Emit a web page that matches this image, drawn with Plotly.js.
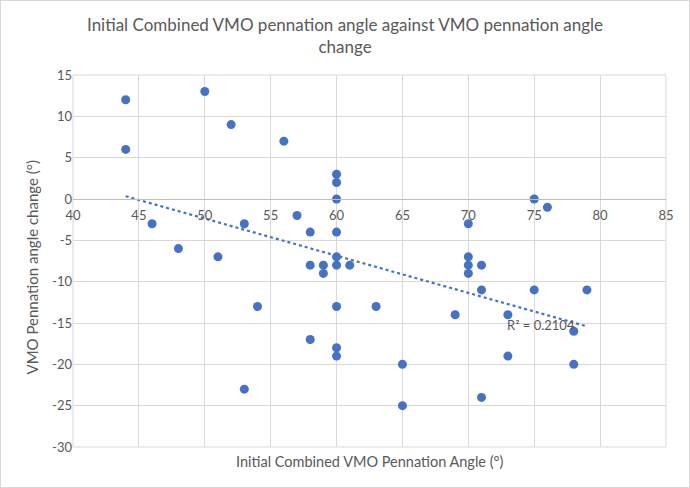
<!DOCTYPE html>
<html>
<head>
<meta charset="utf-8">
<script src="https://cdn.plot.ly/plotly-3.0.1.min.js"></script>
<style>
html,body{margin:0;padding:0;background:#fff;}
#chart{width:690px;height:488px;box-sizing:border-box;border:1px solid #d9d9d9;}
</style>
</head>
<body>
<div id="chart"></div>
<script>
// Initial combined VMO pennation angle (°)
const initialAngle = [44,44,50,52,56,60,60,60,57,46,53,58,60,48,51,60,58,59,60,61,59,54,60,63,58,60,60,53,65,65,70,75,76,70,70,70,71,71,75,79,69,73,78,73,78,71];
// VMO pennation angle change (°)
const angleChange = [12,6,13,9,7,3,2,0,-2,-3,-3,-4,-4,-6,-7,-7,-8,-8,-8,-8,-9,-13,-13,-13,-17,-18,-19,-23,-20,-25,-3,0,-1,-7,-8,-9,-8,-11,-11,-11,-14,-14,-16,-19,-20,-24];
const xTicks = [40,45,50,55,60,65,70,75,80,85];
const yTicks = [-30,-25,-20,-15,-10,-5,0,5,10,15];
const rSquaredLabel = "R² = 0.2104";

// least-squares trendline from the data
const n = initialAngle.length;
const mx = initialAngle.reduce((a,b)=>a+b,0)/n;
const my = angleChange.reduce((a,b)=>a+b,0)/n;
let sxy=0, sxx=0;
for(let i=0;i<n;i++){ sxy += (initialAngle[i]-mx)*(angleChange[i]-my); sxx += (initialAngle[i]-mx)**2; }
const slope = sxy/sxx, intercept = my - slope*mx;
const xMin = Math.min(...initialAngle), xMax = Math.max(...initialAngle);
const trendX = [xMin, xMax];
const trendY = trendX.map(x=>intercept+slope*x);

const grey = '#595959';
const font = "Lato, 'Open Sans', sans-serif";
const blue = '#4472C4';

const data = [
  {x: initialAngle, y: angleChange, type:'scatter', mode:'markers',
   marker:{color:blue, size:9}, showlegend:false, hoverinfo:'x+y'},
  {x: trendX, y: trendY, type:'scatter', mode:'lines',
   line:{color:blue, width:2.2, dash:'dot'}, showlegend:false, hoverinfo:'skip'}
];

const layout = {
  width:688, height:486,
  margin:{l:72, r:23, t:74, b:40},
  paper_bgcolor:'#fff', plot_bgcolor:'#fff',
  font:{family:font, color:grey, size:13},
  xaxis:{range:[40,85], tickvals:xTicks, ticktext:xTicks.map(String),
         showgrid:true, gridcolor:'#d9d9d9', gridwidth:1,
         zeroline:false, showline:true, linecolor:'#bfbfbf', linewidth:1,
         anchor:'free', position:30/45, ticks:'', ticklabelstandoff:4,
         tickfont:{family:font, size:13, color:grey}, fixedrange:true},
  yaxis:{range:[-30,15], tickvals:yTicks, ticktext:yTicks.map(String),
         showgrid:true, gridcolor:'#d9d9d9', gridwidth:1,
         zeroline:false, showline:false, ticks:'',
         tickfont:{family:font, size:13, color:grey},
         fixedrange:true},
  shapes:[{type:'rect', xref:'paper', yref:'paper', x0:0, x1:1, y0:0, y1:1,
           line:{color:'#d9d9d9', width:1}, fillcolor:'rgba(0,0,0,0)', layer:'below'}],
  annotations:[
    {text:'Initial Combined VMO pennation angle against VMO pennation angle<br>change',
     xref:'paper', yref:'paper', x:(345-73)/593, y:1+(75-35.5)/372, xanchor:'center', yanchor:'middle',
     align:'center', showarrow:false, font:{family:font, size:17, color:grey}},
    {text:'Initial Combined VMO Pennation Angle (°)', xref:'paper', yref:'paper',
     x:0.5, y:-(461-447)/372, xanchor:'center', yanchor:'middle', showarrow:false,
     font:{family:font, size:14.5, color:grey}},
    {text:'VMO Pennation angle change (°)', xref:'paper', yref:'paper', textangle:-90,
     x:(31-73)/593, y:(447-267.5)/372, xanchor:'center', yanchor:'middle', showarrow:false,
     font:{family:font, size:15, color:grey}},
    {text:rSquaredLabel, xref:'x', yref:'y', x:75.5, y:-15.3, xanchor:'center', yanchor:'middle',
     showarrow:false, font:{family:font, size:13, color:grey}}
  ]
};

Plotly.newPlot('chart', data, layout, {staticPlot:true, displayModeBar:false});
</script>
</body>
</html>
